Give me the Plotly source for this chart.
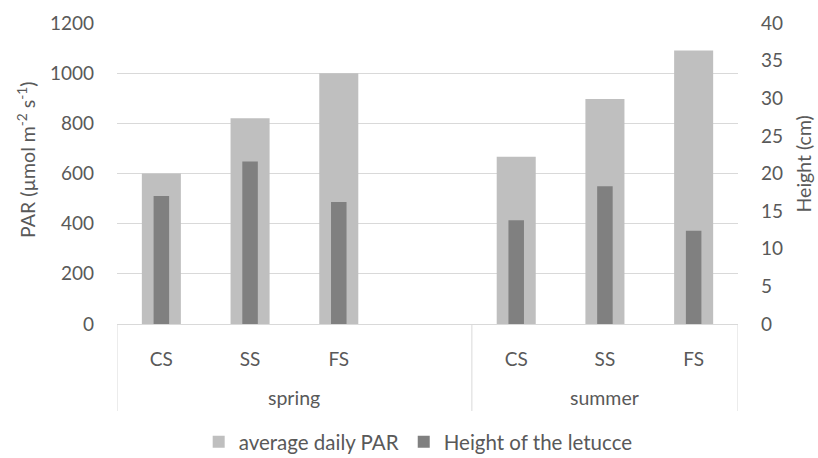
import plotly.graph_objects as go

# Seasons and shading treatments (slot 3 is an empty spacer inside spring)
seasons = ["spring", "summer"]
season_slots = [[0, 3], [4, 6]]
treatments = ["CS", "SS", "FS", "", "CS", "SS", "FS"]
slots = list(range(len(treatments)))

# Average daily PAR (µmol m-2 s-1) and lettuce height (cm)
par_values = [600, 820, 1000, None, 667, 897, 1090]
height_values = [17.0, 21.6, 16.2, None, 13.8, 18.3, 12.4]

par_ticks = [0, 200, 400, 600, 800, 1000, 1200]
height_ticks = [0, 5, 10, 15, 20, 25, 30, 35, 40]

FONT = "Lato"
TEXT = "#595959"
GRID = "#d9d9d9"

fig = go.Figure()
fig.add_trace(go.Bar(
    x=slots, y=par_values, name="average daily PAR",
    marker=dict(color="#bfbfbf", line=dict(width=0)),
    width=0.44, yaxis="y",
))
fig.add_trace(go.Bar(
    x=slots, y=height_values, name="Height of the letucce",
    marker=dict(color="#808080", line=dict(width=0)),
    width=0.175, yaxis="y2",
))

# Group dividers running from the axis line down past the season labels
bounds = [season_slots[0][0] - 0.5, season_slots[0][1] + 0.5, season_slots[1][1] + 0.5]
for b in bounds:
    fig.add_shape(type="line", xref="x", yref="paper", x0=b, x1=b, y0=0, y1=-0.289,
                  line=dict(color=GRID, width=1))

# Season labels centred under their groups
for name, (a, b) in zip(seasons, season_slots):
    fig.add_annotation(x=(a + b) / 2, xref="x", y=-0.243, yref="paper",
                       text=name, showarrow=False, yanchor="middle",
                       font=dict(family=FONT, size=19.5, color=TEXT))

# Axis titles
fig.add_annotation(x=0, xref="paper", xshift=-90, y=0.545, yref="paper",
                   text="PAR (µmol m<sup>-2</sup> s<sup>-1</sup>)",
                   showarrow=False, textangle=-90, xanchor="center", yanchor="middle",
                   font=dict(family=FONT, size=19.5, color=TEXT))
fig.add_annotation(x=1, xref="paper", xshift=65, y=0.53, yref="paper", text="Height (cm)",
                   showarrow=False, textangle=-90, xanchor="center", yanchor="middle",
                   font=dict(family=FONT, size=19.5, color=TEXT))

fig.update_layout(
    width=818, height=458,
    margin=dict(l=117, r=80, t=23, b=134, autoexpand=False),
    paper_bgcolor="white", plot_bgcolor="white",
    barmode="overlay",
    font=dict(family=FONT, color=TEXT, size=19),
    showlegend=True,
    legend=dict(orientation="h", x=0.485, xanchor="center", yref="container", y=0.035,
                yanchor="middle", font=dict(size=20.5, color=TEXT), traceorder="normal",
                itemwidth=30),
    xaxis=dict(
        range=[-0.5, 6.5], tickvals=slots, ticktext=treatments,
        showline=True, linecolor=GRID, linewidth=1,
        showgrid=False, zeroline=False, ticks="",
        ticklabelstandoff=18,
        tickfont=dict(size=19, color=TEXT),
    ),
    yaxis=dict(
        range=[0, 1200], tickvals=par_ticks,
        showgrid=True, gridcolor=GRID, gridwidth=1.3,
        zeroline=False, showline=False,
        ticks="", ticklabelstandoff=22,
        tickfont=dict(size=19, color=TEXT),
    ),
    yaxis2=dict(
        range=[0, 40], tickvals=height_ticks,
        overlaying="y", side="right",
        showgrid=False, zeroline=False, showline=False,
        ticks="", ticklabelstandoff=22,
        tickfont=dict(size=19, color=TEXT),
    ),
)

fig.write_html("out.html")
